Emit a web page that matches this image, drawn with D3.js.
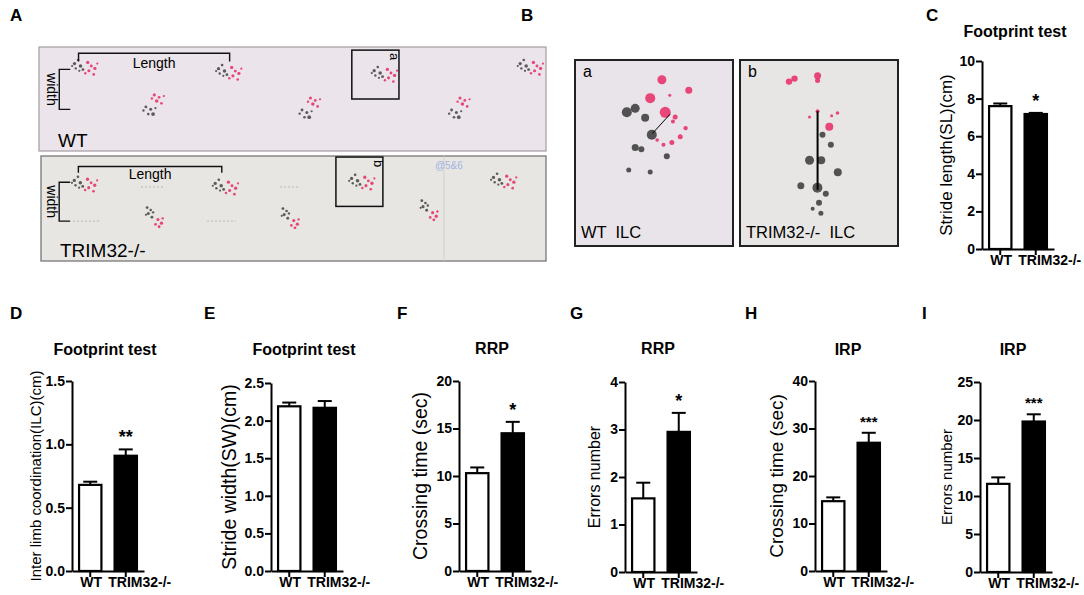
<!DOCTYPE html>
<html><head><meta charset="utf-8">
<script src="https://cdn.jsdelivr.net/npm/d3@7"></script>
<style>
html,body{margin:0;padding:0;background:#fff;}
svg text{font-family:Arial,"Liberation Sans",Helvetica,sans-serif;fill:#000;}
</style></head>
<body>
<svg id="fig" width="1084" height="595" viewBox="0 0 1084 595"></svg>
<script>
// ---------------- DATA ----------------
const groups = ["WT", "TRIM32-/-"];

// C: stride length (cm)
const strideLengthMean = [7.6, 7.18];
const strideLengthSem  = [0.14, 0.06];
const strideLengthTicks = [0, 2, 4, 6, 8, 10];

// D: inter limb coordination (cm)
const ilcMean = [0.68, 0.91];
const ilcSem  = [0.025, 0.05];
const ilcTicks = [0.0, 0.5, 1.0, 1.5];

// E: stride width (cm)
const strideWidthMean = [2.19, 2.17];
const strideWidthSem  = [0.05, 0.09];
const strideWidthTicks = [0.0, 0.5, 1.0, 1.5, 2.0, 2.5];

// F: RRP crossing time (sec)
const rrpTimeMean = [10.3, 14.5];
const rrpTimeSem  = [0.6, 1.2];
const rrpTimeTicks = [0, 5, 10, 15, 20];

// G: RRP errors
const rrpErrorsMean = [1.55, 2.95];
const rrpErrorsSem  = [0.33, 0.40];
const rrpErrorsTicks = [0, 1, 2, 3, 4];

// H: IRP crossing time (sec)
const irpTimeMean = [14.7, 27.0];
const irpTimeSem  = [0.8, 2.1];
const irpTimeTicks = [0, 10, 20, 30, 40];

// I: IRP errors
const irpErrorsMean = [11.6, 19.8];
const irpErrorsSem  = [0.85, 0.95];
const irpErrorsTicks = [0, 5, 10, 15, 20, 25];

// footprint clusters (fraction of strip width / height, pattern id)
const wtPrintsX = [0.089, 0.373, 0.680, 0.968, 0.225, 0.533, 0.828];
const wtPrintsY = [0.194, 0.243, 0.262, 0.194, 0.553, 0.583, 0.583];
const wtPrintsP = [0, 0, 0, 0, 1, 1, 1];
const koPrintsX = [0.085, 0.364, 0.634, 0.915, 0.222, 0.491, 0.766];
const koPrintsY = [0.267, 0.295, 0.248, 0.238, 0.571, 0.581, 0.505];
const koPrintsP = [0, 0, 0, 0, 2, 2, 2];

// close-up photos (fractions of the box)
const closeARed  = [[.55,.106,4.5],[.72,.163,3.5],[.476,.205,5],[.571,.281,5.5],[.634,.307,2.5],[.70,.366,2.2],[.666,.412,2.5],[.613,.444,2.5],[.56,.455,2],[.62,.33,2],[.52,.43,1.8],[.60,.19,1.5]];
const closeADark = [[.328,.281,5],[.381,.26,4.5],[.444,.311,4],[.486,.402,5],[.381,.471,3.5],[.581,.518,3],[.34,.592,2.5],[.476,.602,2.5],[.42,.48,3]];
const closeBRed  = [[.31,.116,3.2],[.345,.10,3.2],[.491,.085,3.5],[.491,.11,2.5],[.565,.359,4],[.44,.307,1.5],[.617,.285,1.8],[.491,.275,2],[.58,.30,1.5]];
const closeBDark = [[.522,.402,3],[.575,.455,3],[.44,.539,4.5],[.514,.539,4],[.619,.603,4],[.385,.676,3.5],[.49,.687,5],[.543,.719,3],[.5,.767,3],[.512,.824,2.5],[.46,.80,2]];

// ---------------- DRAW ----------------
const svg = d3.select('#fig');
const RED = '#e8336b', DARK = '#383838';

// panel letters
const letters = [['A',10,21],['B',521,21],['C',926,21],['D',10,319],['E',204,319],['F',397,319],['G',570,319],['H',745,319],['I',922,319]];
svg.selectAll('text.letter').data(letters).join('text').attr('class','letter')
  .attr('x', d=>d[1]).attr('y', d=>d[2]).text(d=>d[0])
  .style('font-weight','bold').style('font-size','17px');

// ---- Panel A ----
const patterns = [
  {dark:[[-8,-3,1.5],[-5,-6,1.2],[-3,-1,1.6],[-7,1,1.1],[-1,2,1.3],[-10,-1,1.0],[-4,3,1.0]],
   red:[[3,-4,1.5],[6,-1,1.3],[4,3,1.4],[9,1,1.5],[1,5,1.1],[8,6,1.2],[11,-3,1.0]]},
  {red:[[1,-8,1.4],[5,-6,1.3],[3,-3,1.6],[7,-1,1.2],[-1,-5,1.1],[9,-7,1.0]],
   dark:[[-6,2,1.3],[-2,4,1.4],[-8,5,1.1],[0,8,1.7],[-4,8,1.2],[2,3,1.0]]},
  {dark:[[-5,-7,1.3],[-2,-5,1.2],[-4,-2,1.4],[0,-3,1.1],[-6,-1,1.0],[-1,1,1.3]],
   red:[[4,3,1.4],[7,6,1.5],[2,7,1.2],[8,2,1.1],[5,9,1.3]]}
];
const PS = 1.2; // pattern spread

function drawStrip(o) {
  const g = svg.append('g');
  g.append('rect').attr('x',o.x).attr('y',o.y).attr('width',o.w).attr('height',o.h)
    .attr('fill',o.fill).attr('stroke',o.border).attr('stroke-width',1.3);
  const sx = d3.scaleLinear().domain([0,1]).range([o.x, o.x+o.w]);
  const sy = d3.scaleLinear().domain([0,1]).range([o.y, o.y+o.h]);
  if (o.seam) g.append('line').attr('x1',sx(o.seam)).attr('x2',sx(o.seam)).attr('y1',o.y).attr('y2',o.y+o.h).attr('stroke','#d2d0cc').attr('stroke-width',1);
  if (o.dashes) o.dashes.forEach(d=>{
    g.append('line').attr('x1',sx(d[0])).attr('x2',sx(d[1])).attr('y1',sy(d[2])).attr('y2',sy(d[2]))
     .attr('stroke','#b8b4b4').attr('stroke-width',1).attr('stroke-dasharray','2,2');
  });
  o.px.forEach((px,i)=>{
    const cx = sx(px), cy = sy(o.py[i]); const p = patterns[o.pp[i]];
    g.selectAll(null).data(p.dark).join('circle').attr('cx',d=>cx+d[0]*PS).attr('cy',d=>cy+d[1]*PS).attr('r',d=>d[2]*1.1).attr('fill',DARK).attr('opacity',0.8);
    g.selectAll(null).data(p.red).join('circle').attr('cx',d=>cx+d[0]*PS).attr('cy',d=>cy+d[1]*PS).attr('r',d=>d[2]*1.1).attr('fill',RED).attr('opacity',0.9);
  });
  // Length bracket
  const L = o.len;
  g.append('path').attr('d',`M${sx(L[0])},${sy(L[3])}V${sy(L[2])}H${sx(L[1])}V${sy(L[3])}`)
    .attr('fill','none').attr('stroke','#111').attr('stroke-width',1.4);
  g.append('text').attr('x',sx((L[0]+L[1])/2)).attr('y',sy(L[2])+o.lenDy).attr('text-anchor','middle')
    .style('font-size','14px').text('Length');
  // width bracket
  const W = o.wid;
  g.append('path').attr('d',`M${sx(W[0])+11},${sy(W[1])}H${sx(W[0])}V${sy(W[2])}H${sx(W[0])+11}`)
    .attr('fill','none').attr('stroke','#111').attr('stroke-width',1.4);
  g.append('text').attr('transform',`translate(${sx(W[0])-12},${(sy(W[1])+sy(W[2]))/2}) rotate(90)`)
    .attr('text-anchor','middle').style('font-size','14px').text('width');
  // label
  g.append('text').attr('x',o.x+19).attr('y',o.y+o.h-4).style('font-size','19px').text(o.label);
  // zoom box
  const B = o.box;
  g.append('rect').attr('x',sx(B[0])).attr('y',sy(B[1])).attr('width',sx(B[2])-sx(B[0])).attr('height',sy(B[3])-sy(B[1]))
    .attr('fill','none').attr('stroke','#111').attr('stroke-width',1.5);
  g.append('text').attr('transform',`translate(${sx(B[2])-9},${sy(B[1])+3}) rotate(90)`)
    .style('font-size','13px').text(o.boxLabel);
  if (o.note) g.append('text').attr('x',sx(o.note[0])).attr('y',sy(o.note[1])).style('font-size','10px')
    .style('fill','#9fb4e0').text('@5&6');
}

drawStrip({x:39,y:47,w:507,h:104,fill:'#ebe4ea',border:'#a9a3a8',label:'WT',
  px:wtPrintsX,py:wtPrintsY,pp:wtPrintsP,
  len:[0.078,0.376,0.06,0.14],lenDy:15,wid:[0.04,0.215,0.60],
  box:[0.617,0.03,0.710,0.50],boxLabel:'a'});
drawStrip({x:41,y:156,w:505,h:105,fill:'#e8e6e3',border:'#777',label:'TRIM32-/-',
  px:koPrintsX,py:koPrintsY,pp:koPrintsP,
  len:[0.074,0.358,0.10,0.16],lenDy:12,wid:[0.036,0.25,0.62],
  box:[0.584,0.01,0.677,0.48],boxLabel:'b',seam:0.798,
  dashes:[[0.198,0.244,0.295],[0.473,0.513,0.295],[0.063,0.117,0.62],[0.329,0.386,0.62]],
  note:[0.78,0.12]});

// ---- Panel B ----
function drawClose(o) {
  const g = svg.append('g');
  const sx = d3.scaleLinear().domain([0,1]).range([o.x, o.x+o.w]);
  const sy = d3.scaleLinear().domain([0,1]).range([o.y, o.y+o.h]);
  g.append('rect').attr('x',o.x).attr('y',o.y).attr('width',o.w).attr('height',o.h).attr('fill',o.fill);
  g.selectAll(null).data(o.dark).join('circle').attr('cx',d=>sx(d[0])).attr('cy',d=>sy(d[1])).attr('r',d=>d[2]).attr('fill',DARK).attr('opacity',0.85);
  g.selectAll(null).data(o.red).join('circle').attr('cx',d=>sx(d[0])).attr('cy',d=>sy(d[1])).attr('r',d=>d[2]).attr('fill',RED).attr('opacity',0.9);
  g.append('line').attr('x1',sx(o.line[0])).attr('y1',sy(o.line[1])).attr('x2',sx(o.line[2])).attr('y2',sy(o.line[3]))
    .attr('stroke','#000').attr('stroke-width',o.lw);
  g.append('rect').attr('x',o.x).attr('y',o.y).attr('width',o.w).attr('height',o.h).attr('fill','none').attr('stroke','#222').attr('stroke-width',2);
  g.append('text').attr('x',o.x+8).attr('y',o.y+17).style('font-size','16px').text(o.tag);
  g.append('text').attr('x',o.x+6).attr('y',o.y+o.h-8).style('font-size','16.5px').attr('xml:space','preserve').text(o.caption);
}
drawClose({x:575,y:60,w:158,h:186,fill:'#e8e4e9',dark:closeADark,red:closeARed,line:[.49,.395,.603,.29],lw:1,tag:'a',caption:'WT  ILC'});
drawClose({x:740,y:60,w:158,h:186,fill:'#e7e6e4',dark:closeBDark,red:closeBRed,line:[.491,.275,.491,.698],lw:2,tag:'b',caption:'TRIM32-/-  ILC'});

// ---- Bar charts ----
const charts = [
  {x0:982, yTop:61, yBot:249, mean:strideLengthMean, sem:strideLengthSem, ticks:strideLengthTicks, fmt:d3.format('d'),
   title:'Footprint test', titleY:37, ylabel:'Stride length(SL)(cm)', ylx:952, ylfs:17, star:'*'},
  {x0:72, yTop:381, yBot:571, mean:ilcMean, sem:ilcSem, ticks:ilcTicks, fmt:d3.format('.1f'),
   title:'Footprint test', titleY:355, ylabel:'Inter limb coordination(ILC)(cm)', ylx:41, ylfs:15, star:'**'},
  {x0:271, yTop:383, yBot:571, mean:strideWidthMean, sem:strideWidthSem, ticks:strideWidthTicks, fmt:d3.format('.1f'),
   title:'Footprint test', titleY:355, ylabel:'Stride width(SW)(cm)', ylx:236, ylfs:19.5, star:''},
  {x0:459, yTop:381, yBot:571, mean:rrpTimeMean, sem:rrpTimeSem, ticks:rrpTimeTicks, fmt:d3.format('d'),
   title:'RRP', titleY:354, ylabel:'Crossing time (sec)', ylx:427, ylfs:19.5, star:'*'},
  {x0:625, yTop:382, yBot:572, mean:rrpErrorsMean, sem:rrpErrorsSem, ticks:rrpErrorsTicks, fmt:d3.format('d'),
   title:'RRP', titleY:354, ylabel:'Errors number', ylx:600, ylfs:16, star:'*'},
  {x0:815, yTop:381, yBot:571, mean:irpTimeMean, sem:irpTimeSem, ticks:irpTimeTicks, fmt:d3.format('d'),
   title:'IRP', titleY:355, ylabel:'Crossing time (sec)', ylx:783, ylfs:19, star:'***'},
  {x0:980, yTop:382, yBot:572, mean:irpErrorsMean, sem:irpErrorsSem, ticks:irpErrorsTicks, fmt:d3.format('d'),
   title:'IRP', titleY:355, ylabel:'Errors number', ylx:952, ylfs:15, star:'***'}
];

function barChart(c) {
  const g = svg.append('g');
  const W = 72;
  const x = d3.scaleBand().domain(groups).range([c.x0, c.x0 + W]).paddingInner(0.314).paddingOuter(0.171);
  const y = d3.scaleLinear().domain([0, d3.max(c.ticks)]).range([c.yBot, c.yTop]);
  const bw = x.bandwidth();

  // error bars (upper)
  g.selectAll('line.err').data(groups).join('line')
    .attr('x1', d=>x(d)+bw/2).attr('x2', d=>x(d)+bw/2)
    .attr('y1', (d,i)=>y(c.mean[i])).attr('y2', (d,i)=>y(c.mean[i]+c.sem[i]))
    .attr('stroke','#000').attr('stroke-width',2);
  g.selectAll('line.cap').data(groups).join('line')
    .attr('x1', d=>x(d)+bw/2-7).attr('x2', d=>x(d)+bw/2+7)
    .attr('y1', (d,i)=>y(c.mean[i]+c.sem[i])).attr('y2', (d,i)=>y(c.mean[i]+c.sem[i]))
    .attr('stroke','#000').attr('stroke-width',2);
  // bars
  g.selectAll('rect.bar').data(groups).join('rect')
    .attr('x', d=>x(d)+1).attr('width', bw-2)
    .attr('y', (d,i)=>y(c.mean[i])).attr('height', (d,i)=>y(0)-y(c.mean[i]))
    .attr('fill', (d,i)=> i ? '#000' : '#fff').attr('stroke','#000').attr('stroke-width',2.2);

  // axes
  const ya = g.append('g').attr('transform',`translate(${c.x0},0)`)
    .call(d3.axisLeft(y).tickValues(c.ticks).tickFormat(c.fmt).tickSize(6).tickSizeOuter(0).tickPadding(1));
  const xa = g.append('g').attr('transform',`translate(0,${c.yBot})`)
    .call(d3.axisBottom(x).tickSize(6).tickSizeOuter(0).tickPadding(0));
  [ya, xa].forEach(a => {
    a.select('.domain').attr('stroke','#000').attr('stroke-width',2);
    a.selectAll('.tick line').attr('stroke','#000').attr('stroke-width',2);
    a.selectAll('.tick text').style('font-size','14px').style('font-weight','bold').attr('fill','#000')
      .style('font-family','Arial,"Liberation Sans",sans-serif');
  });
  xa.selectAll('.tick text').attr('dx', (d,i)=> i ? 14 : 1);

  // significance
  if (c.star) {
    const i = 1;
    const fs = c.star === '***' ? 15 : 18;
    g.append('text').attr('x', x(groups[i])+bw/2).attr('y', y(c.mean[i]+c.sem[i]) - 6)
      .attr('text-anchor','middle').style('font-size', fs+'px').style('font-weight','bold')
      .style('fill','#000').text(c.star);
  }
  // title
  g.append('text').attr('x', c.x0 + W/2 - 3).attr('y', c.titleY).attr('text-anchor','middle')
    .style('font-size','16px').style('font-weight','bold').text(c.title);
  // y label
  g.append('text').attr('transform',`translate(${c.ylx},${(c.yTop+c.yBot)/2}) rotate(-90)`)
    .attr('text-anchor','middle').style('font-size', c.ylfs+'px').text(c.ylabel);
}
charts.forEach(barChart);
</script>
</body></html>
